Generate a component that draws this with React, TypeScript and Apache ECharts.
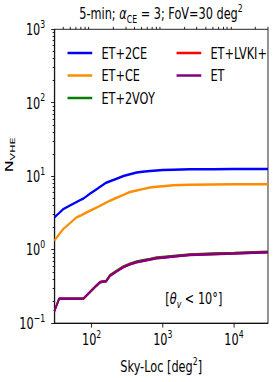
import React, { useEffect, useRef } from 'react';
import * as echarts from 'echarts';

// Sky-localisation area [deg^2]
const skyLoc = [30, 35, 40, 50, 61, 69, 77, 95, 117, 131, 146, 160, 181, 220, 280, 345, 430, 520, 660, 820, 1000, 1400, 2400, 5000, 10000, 30000];
// N_VHE per network
const et2ce = [2.75, 3.15, 3.56, 4.0, 4.43, 4.72, 4.97, 5.78, 6.64, 7.14, 7.66, 8.15, 8.53, 9.14, 10.07, 10.6, 11.2, 11.5, 11.8, 12.0, 12.1, 12.25, 12.4, 12.45, 12.5, 12.5];
const etce = [1.33, 1.62, 1.91, 2.31, 2.74, 2.89, 3.06, 3.38, 3.73, 3.95, 4.16, 4.37, 4.64, 5.05, 5.57, 6.1, 6.4, 6.67, 7.01, 7.16, 7.3, 7.53, 7.65, 7.72, 7.75, 7.77];
const et2voy = [0.145, 0.215, 0.215, 0.215, 0.215, 0.215, 0.216, 0.265, 0.324, 0.361, 0.368, 0.375, 0.45, 0.51, 0.59, 0.645, 0.69, 0.715, 0.748, 0.78, 0.795, 0.82, 0.862, 0.884, 0.9, 0.935];
const etlvki = [0.145, 0.215, 0.215, 0.215, 0.215, 0.215, 0.216, 0.265, 0.324, 0.361, 0.368, 0.371, 0.442, 0.502, 0.581, 0.633, 0.678, 0.703, 0.736, 0.767, 0.781, 0.808, 0.851, 0.872, 0.89, 0.925];
const et = [0.145, 0.215, 0.215, 0.215, 0.215, 0.215, 0.216, 0.265, 0.324, 0.361, 0.368, 0.37, 0.44, 0.499, 0.578, 0.63, 0.675, 0.7, 0.733, 0.764, 0.778, 0.805, 0.848, 0.869, 0.887, 0.922];

const seriesNames = ['ET+2CE', 'ET+CE', 'ET+2VOY', 'ET+LVKI+', 'ET'];
const seriesValues = [et2ce, etce, et2voy, etlvki, et];
const seriesColors = ['#0000ff', '#ff8c00', '#008000', '#ff0000', '#800080'];

const xMajorTicks = [100, 1000, 10000];
const xMinorTicks = [40, 50, 60, 70, 80, 90, 200, 300, 400, 500, 600, 700, 800, 900, 2000, 3000, 4000, 5000, 6000, 7000, 8000, 9000, 20000, 30000];
const yMajorTicks = [0.1, 1, 10, 100, 1000];
const yMinorTicks = [0.2, 0.3, 0.4, 0.5, 0.6, 0.7, 0.8, 0.9, 2, 3, 4, 5, 6, 7, 8, 9, 20, 30, 40, 50, 60, 70, 80, 90, 200, 300, 400, 500, 600, 700, 800, 900];

const FONT = "'DejaVu Sans', sans-serif";
const W = 388;
const H = 382;
const SX = 274 / W;

function expLabel(v: number): string {
  const e = Math.round(Math.log10(v));
  return '10{sup|' + (e < 0 ? '\u2212' + Math.abs(e) : String(e)) + '}';
}

const supAxis = { fontSize: 11, fontFamily: FONT, color: '#000', verticalAlign: 'top', lineHeight: 11 };

export default function App() {
  const ref = useRef<HTMLDivElement>(null);
  useEffect(() => {
    if (!ref.current) return;
    const chart = echarts.init(ref.current, undefined, { renderer: 'svg' });
    const tokenBase = { fontSize: 16, fontFamily: FONT, fill: '#000', lineHeight: 22 };
    const tokenSup = { fontSize: 11, fontFamily: FONT, fill: '#000', verticalAlign: 'top', lineHeight: 11 };
    const tokenSub = { fontSize: 11, fontFamily: FONT, fill: '#000', verticalAlign: 'bottom', lineHeight: 11 };
    const tokenSubI = { ...tokenSub, fontStyle: 'italic' };
    const tokenI = { ...tokenBase, fontStyle: 'italic' };

    const legendCommon = {
      orient: 'vertical',
      icon: 'rect',
      itemWidth: 35,
      itemHeight: 2.5,
      itemGap: 4.5,
      selectedMode: false,
      textStyle: { fontSize: 16, fontFamily: FONT, color: '#000', lineHeight: 18, padding: [0, 0, 0, 8] },
    };

    chart.setOption({
      animation: false,
      textStyle: { fontFamily: FONT },
      grid: {
        left: 77,
        right: 8.5,
        top: 29.3,
        bottom: 57.5,
        show: true,
        borderColor: '#000',
        borderWidth: 1,
        backgroundColor: 'transparent',
      },
      legend: [
        { ...legendCommon, data: seriesNames.slice(0, 3), left: 90.6, top: 39 },
        { ...legendCommon, data: seriesNames.slice(3), left: 245, top: 39 },
      ],
      xAxis: [
        {
          type: 'log',
          logBase: 10,
          min: 30,
          max: 30000,
          name: 'Sky-Loc [deg{sup|2}]',
          nameLocation: 'middle',
          nameGap: 30,
          nameTextStyle: {
            fontSize: 16,
            fontFamily: FONT,
            color: '#000',
            lineHeight: 22,
            rich: { sup: supAxis },
          },
          axisLine: { show: true, lineStyle: { color: '#000', width: 1 } },
          axisTick: { show: true, inside: false, length: 4.5, lineStyle: { color: '#000' }, customValues: xMajorTicks },
          axisLabel: {
            customValues: xMajorTicks,
            formatter: (v: number) => expLabel(v),
            margin: 5,
            fontSize: 16,
            fontFamily: FONT,
            color: '#000',
            lineHeight: 22,
            rich: { sup: supAxis },
          },
          splitLine: { show: false },
        },
        {
          type: 'log',
          logBase: 10,
          min: 30,
          max: 30000,
          axisLine: { show: false },
          axisTick: { show: true, inside: false, length: 2.5, lineStyle: { color: '#000' }, customValues: xMinorTicks },
          axisLabel: { show: false },
          splitLine: { show: false },
        },
      ],
      yAxis: [
        {
          type: 'log',
          logBase: 10,
          min: 0.1,
          max: 1000,
          axisLine: { show: true, lineStyle: { color: '#000', width: 1 } },
          axisTick: { show: true, inside: false, length: 4.5, lineStyle: { color: '#000' }, customValues: yMajorTicks },
          axisLabel: {
            customValues: yMajorTicks,
            formatter: (v: number) => expLabel(v),
            margin: 13,
            fontSize: 16,
            fontFamily: FONT,
            color: '#000',
            lineHeight: 22,
            rich: { sup: supAxis },
          },
          splitLine: { show: false },
        },
        {
          type: 'log',
          logBase: 10,
          min: 0.1,
          max: 1000,
          position: 'left',
          axisLine: { show: false },
          axisTick: { show: true, inside: false, length: 2.5, lineStyle: { color: '#000' }, customValues: yMinorTicks },
          axisLabel: { show: false },
          splitLine: { show: false },
        },
      ],
      series: seriesNames.map((name, k) => ({
        name,
        type: 'line',
        xAxisIndex: 0,
        yAxisIndex: 0,
        data: skyLoc.map((x, i) => [x, seriesValues[k][i]]),
        symbol: 'none',
        showSymbol: false,
        color: seriesColors[k],
        itemStyle: { color: seriesColors[k] },
        lineStyle: { color: seriesColors[k], width: 2.5 },
        z: 2 + k,
      })),
      graphic: [
        {
          type: 'text',
          x: 228,
          y: 13,
          style: {
            text: '5-min; {i|\u03b1}{sub|CE} = 3; FoV=30 deg{sup|2}',
            textAlign: 'center',
            textVerticalAlign: 'middle',
            fontSize: 16,
            fontFamily: FONT,
            fill: '#000',
            lineHeight: 22,
            rich: { i: tokenI, sub: tokenSub, sup: tokenSup },
          },
        },
        {
          type: 'text',
          x: 12,
          y: 155,
          rotation: Math.PI / 2,
          style: {
            text: 'N{sub|VHE}',
            textAlign: 'center',
            textVerticalAlign: 'middle',
            fontSize: 16,
            fontFamily: FONT,
            fill: '#000',
            lineHeight: 22,
            rich: { sub: tokenSub },
          },
        },
        {
          type: 'text',
          x: 274.5,
          y: 298,
          style: {
            text: '[{i|\u03b8}{sub|v} < 10\u00b0]',
            textAlign: 'center',
            textVerticalAlign: 'middle',
            fontSize: 16,
            fontFamily: FONT,
            fill: '#000',
            lineHeight: 22,
            rich: { i: tokenI, sub: tokenSubI },
          },
        },
      ],
    });
    return () => chart.dispose();
  }, []);
  return (
    <div
      ref={ref}
      style={{
        position: 'fixed',
        left: 0,
        top: 0,
        width: W,
        height: H,
        transform: `scaleX(${SX})`,
        transformOrigin: '0 0',
        background: '#fff',
      }}
    />
  );
}
